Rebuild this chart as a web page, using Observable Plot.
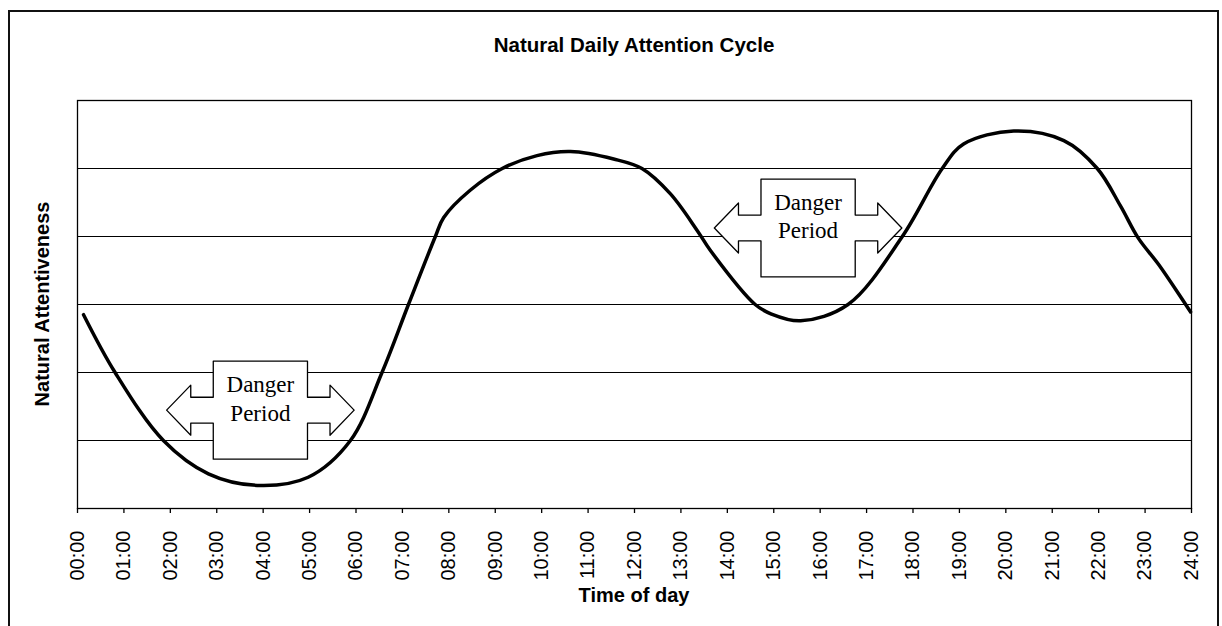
<!DOCTYPE html>
<html>
<head>
<meta charset="utf-8">
<script src="https://cdn.jsdelivr.net/npm/d3@7"></script>
<script src="https://cdn.jsdelivr.net/npm/@observablehq/plot@0.6"></script>
<style>
  html, body { margin: 0; padding: 0; background: #fff; }
  body { width: 1222px; height: 626px; position: relative; overflow: hidden; font-family: "Liberation Sans", Arial, sans-serif; }
  #border { position: absolute; left: 8px; top: 10px; width: 1211px; height: 660px; border: 2px solid #111; box-sizing: border-box; }
  #chart { position: absolute; left: 0; top: 0; }
  .title { position: absolute; left: 77px; width: 1114px; top: 33px; text-align: center; font-weight: bold; font-size: 20.5px; color: #000; }
  .xlabel { position: absolute; left: 77px; width: 1114px; top: 584px; text-align: center; font-weight: bold; font-size: 20px; color: #000; }
  .ylabel { position: absolute; left: 42px; top: 304px; transform: translate(-50%, -50%) rotate(-90deg); white-space: nowrap; font-weight: bold; font-size: 20px; color: #000; }
</style>
</head>
<body>
<div id="border"></div>
<div id="chart"></div>
<div class="title">Natural Daily Attention Cycle</div>
<div class="xlabel">Time of day</div>
<div class="ylabel">Natural Attentiveness</div>
<script>
// Curve: hour of day and attentiveness (in gridline units, 0–6)
const hours = [0.13, 0.81, 1.85, 2.82, 3.87, 4.97, 5.88, 6.56, 7.13, 7.71, 7.89, 8.46, 9.15, 9.9, 10.62, 11.55, 12.16, 12.77, 13.35, 13.64, 14.6, 14.95, 15.58, 16.6, 17.77, 18.63, 19.09, 20.17, 21.25, 21.97, 22.47, 22.85, 23.3, 23.98];
const attention = [2.85, 2.0, 1.0, 0.51, 0.34, 0.46, 1.0, 2.0, 3.0, 4.0, 4.28, 4.68, 5.0, 5.19, 5.25, 5.14, 5.0, 4.63, 4.09, 3.79, 3.0, 2.86, 2.76, 3.0, 4.0, 5.0, 5.36, 5.55, 5.41, 5.0, 4.45, 3.98, 3.58, 2.89];

// Tick labels
const tickHours = d3.range(0, 25);
const tickLabels = tickHours.map(h => String(h).padStart(2, "0") + ":00");
const gridValues = [1, 2, 3, 4, 5];

// Danger Period callouts (centre in hour / attentiveness units)
const calloutHour = [3.94, 15.74];
const calloutValue = [1.446, 4.125];
const calloutText = ["Danger\nPeriod", "Danger\nPeriod"];

const curve = hours.map((h, i) => ({h, v: attention[i]}));

// callout outline (left/right double arrow with a box)
const bw = 1.015, bh = 0.72, sh = 0.19, hh = 0.368, hb = 1.5, tip = 2.02;
const shape = [[-bw, bh], [bw, bh], [bw, sh], [hb, sh], [hb, hh], [tip, 0], [hb, -hh], [hb, -sh], [bw, -sh], [bw, -bh],
  [-bw, -bh], [-bw, -sh], [-hb, -sh], [-hb, -hh], [-tip, 0], [-hb, hh], [-hb, sh], [-bw, sh], [-bw, bh]];
const calloutPts = [];
calloutHour.forEach((cx, k) => {
  shape.forEach(([dx, dy]) => calloutPts.push({id: k, h: cx + dx, v: calloutValue[k] + dy}));
});
const calloutLabels = calloutHour.map((h, k) => ({h, v: calloutValue[k], t: calloutText[k]}));

const chart = Plot.plot({
  width: 1222,
  height: 626,
  marginLeft: 77,
  marginRight: 31,
  marginTop: 100,
  marginBottom: 118,
  style: {fontFamily: "'Liberation Sans', Arial, sans-serif", background: "transparent", color: "#000"},
  x: {domain: [0, 24]},
  y: {domain: [0, 6], axis: null},
  marks: [
    Plot.ruleY(gridValues, {stroke: "#000", strokeWidth: 1}),
    Plot.frame({stroke: "#000", strokeWidth: 1.3}),
    Plot.axisX(tickHours, {
      tickFormat: (d) => tickLabels[tickHours.indexOf(d)],
      tickSize: 5,
      tickPadding: 17,
      tickRotate: -90,
      fontSize: 20,
      stroke: "#000",
      strokeWidth: 1.3,
      label: null
    }),
    Plot.line(calloutPts, {x: "h", y: "v", z: "id", fill: "white", stroke: "#000", strokeWidth: 1.3, curve: "linear"}),
    Plot.text(calloutLabels, {x: "h", y: "v", text: "t", fontFamily: "'Liberation Serif', 'Times New Roman', serif", fontSize: 23, lineHeight: 1.24, dy: -13, fill: "#000"}),
    Plot.line(curve, {x: "h", y: "v", stroke: "#000", strokeWidth: 3.5, curve: "catmull-rom"})
  ]
});
document.getElementById("chart").appendChild(chart);
</script>
</body>
</html>
